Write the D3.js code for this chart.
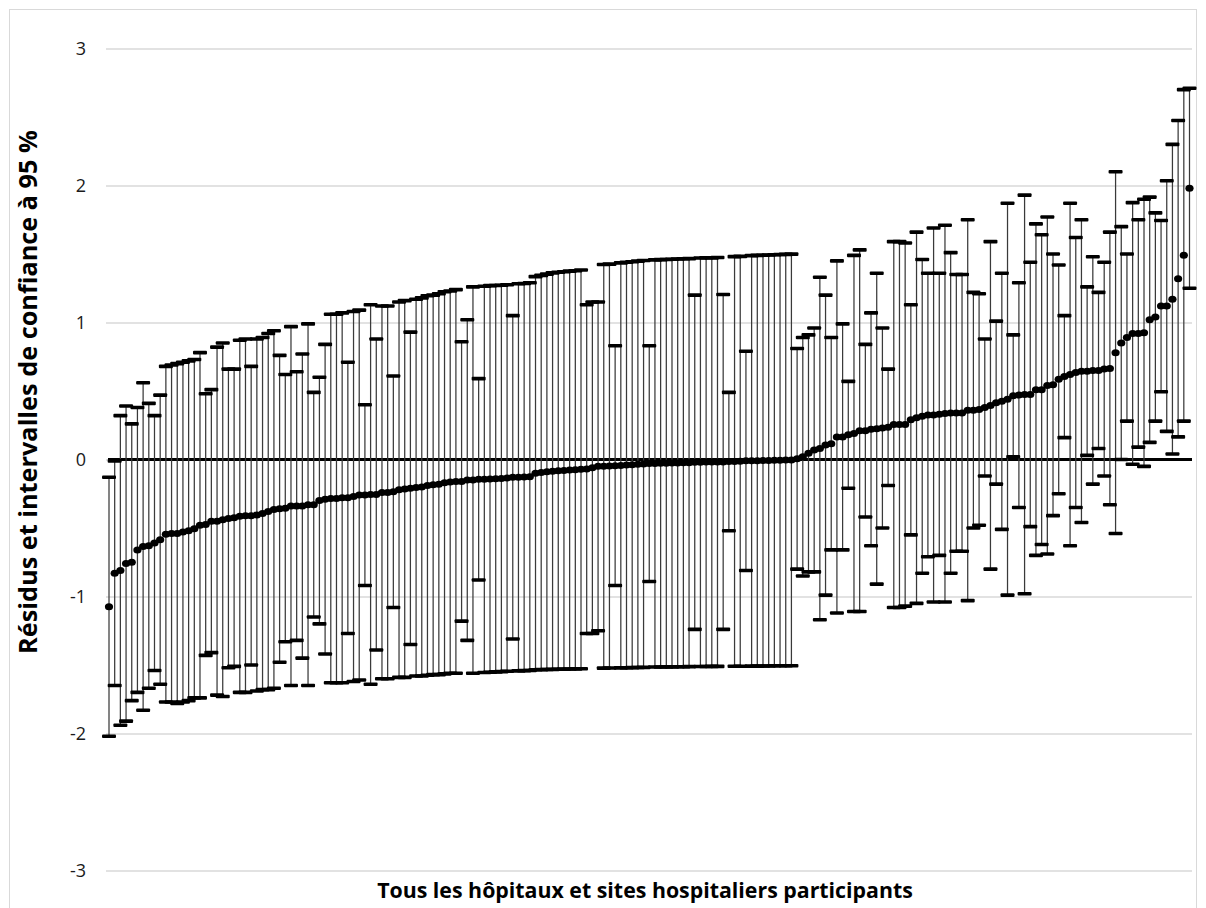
<!DOCTYPE html>
<html>
<head>
<meta charset="utf-8">
<script src="https://cdn.jsdelivr.net/npm/d3@7"></script>
<style>
  html, body { margin: 0; padding: 0; background: #fff; }
  svg { display: block; }
</style>
</head>
<body>
<svg id="chart" width="1206" height="908"></svg>
<script>
// ---- Data ----
const yTicks = [-3, -2, -1, 0, 1, 2, 3];
const yTitle = "Résidus et intervalles de confiance à 95 %";
const xTitle = "Tous les hôpitaux et sites hospitaliers participants";

// residual (point estimate) per hospital, sorted ascending
const residual = [
-1.075,-0.83,-0.81,-0.76,-0.75,-0.66,-0.635,-0.63,-0.61,-0.585,
-0.545,-0.54,-0.54,-0.53,-0.52,-0.505,-0.48,-0.475,-0.45,-0.45,
-0.44,-0.43,-0.425,-0.415,-0.41,-0.41,-0.405,-0.395,-0.38,-0.365,
-0.36,-0.355,-0.34,-0.34,-0.34,-0.33,-0.33,-0.30,-0.29,-0.285,
-0.285,-0.28,-0.28,-0.27,-0.26,-0.26,-0.255,-0.255,-0.24,-0.24,
-0.235,-0.22,-0.215,-0.21,-0.205,-0.20,-0.19,-0.185,-0.18,-0.17,
-0.165,-0.16,-0.16,-0.15,-0.15,-0.145,-0.145,-0.142,-0.14,-0.138,
-0.135,-0.13,-0.13,-0.128,-0.125,-0.10,-0.095,-0.09,-0.085,-0.082,
-0.08,-0.077,-0.075,-0.072,-0.07,-0.06,-0.05,-0.05,-0.048,-0.045,
-0.043,-0.04,-0.038,-0.035,-0.032,-0.03,-0.029,-0.028,-0.027,-0.026,
-0.025,-0.024,-0.023,-0.02,-0.02,-0.019,-0.019,-0.018,-0.018,-0.015,
-0.014,-0.013,-0.01,-0.01,-0.009,-0.008,-0.007,-0.006,-0.005,-0.004,
-0.003,0.005,0.02,0.045,0.07,0.08,0.105,0.115,0.165,0.165,
0.18,0.19,0.21,0.21,0.22,0.225,0.23,0.235,0.255,0.255,
0.255,0.29,0.305,0.315,0.325,0.325,0.33,0.335,0.34,0.34,
0.34,0.36,0.36,0.365,0.38,0.395,0.415,0.425,0.44,0.465,
0.47,0.475,0.475,0.51,0.51,0.54,0.545,0.585,0.605,0.62,
0.635,0.645,0.645,0.65,0.65,0.66,0.665,0.78,0.85,0.89,
0.92,0.92,0.925,1.02,1.04,1.12,1.12,1.17,1.32,1.49,
1.98
];

// lower bound of the 95 % confidence interval
const lower = [
-2.02,-1.65,-1.94,-1.91,-1.76,-1.70,-1.83,-1.67,-1.54,-1.64,
-1.77,-1.77,-1.78,-1.77,-1.76,-1.74,-1.74,-1.43,-1.41,-1.72,
-1.73,-1.52,-1.51,-1.70,-1.70,-1.50,-1.69,-1.68,-1.68,-1.67,
-1.48,-1.33,-1.65,-1.32,-1.45,-1.65,-1.15,-1.20,-1.42,-1.63,
-1.63,-1.63,-1.27,-1.62,-1.61,-0.92,-1.64,-1.39,-1.60,-1.60,
-1.08,-1.59,-1.59,-1.35,-1.58,-1.58,-1.575,-1.57,-1.57,-1.565,
-1.56,-1.56,-1.18,-1.32,-1.56,-0.88,-1.555,-1.553,-1.55,-1.548,
-1.546,-1.31,-1.543,-1.541,-1.54,-1.535,-1.534,-1.533,-1.532,-1.531,
-1.53,-1.529,-1.528,-1.527,-1.27,-1.27,-1.25,-1.523,-1.522,-0.92,
-1.521,-1.52,-1.519,-1.518,-1.517,-0.89,-1.515,-1.515,-1.514,-1.514,
-1.513,-1.513,-1.512,-1.24,-1.511,-1.511,-1.51,-1.51,-1.24,-0.52,
-1.509,-1.509,-0.81,-1.508,-1.508,-1.507,-1.507,-1.506,-1.506,-1.505,
-1.505,-0.80,-0.85,-0.82,-0.82,-1.17,-0.99,-0.66,-1.12,-0.66,
-0.21,-1.11,-1.11,-0.42,-0.63,-0.91,-0.50,-0.19,-1.08,-1.08,
-1.07,-0.55,-1.05,-0.83,-0.71,-1.04,-0.70,-1.04,-0.83,-0.67,
-0.67,-1.03,-0.50,-0.48,-0.12,-0.80,-0.18,-0.51,-0.99,0.02,
-0.35,-0.98,-0.49,-0.70,-0.62,-0.69,-0.41,-0.25,0.16,-0.63,
-0.35,-0.46,0.03,-0.18,0.08,-0.12,-0.33,-0.54,0.0,0.28,
-0.035,0.09,-0.05,0.125,0.28,0.495,0.205,0.04,0.165,0.28,
1.25
];

// upper bound of the 95 % confidence interval
const upper = [
-0.13,-0.01,0.32,0.39,0.26,0.38,0.56,0.41,0.32,0.47,
0.68,0.69,0.70,0.71,0.72,0.73,0.78,0.48,0.51,0.82,
0.85,0.66,0.66,0.87,0.88,0.68,0.88,0.89,0.92,0.94,
0.76,0.62,0.97,0.64,0.77,0.99,0.49,0.60,0.84,1.06,
1.06,1.07,0.71,1.08,1.09,0.40,1.13,0.88,1.12,1.12,
0.61,1.15,1.16,0.93,1.17,1.18,1.195,1.20,1.21,1.225,
1.23,1.24,0.86,1.02,1.26,0.59,1.265,1.269,1.27,1.272,
1.276,1.05,1.283,1.285,1.29,1.335,1.344,1.353,1.362,1.367,
1.37,1.375,1.378,1.383,1.13,1.15,1.15,1.423,1.426,0.83,
1.435,1.44,1.443,1.448,1.453,0.83,1.457,1.459,1.46,1.462,
1.463,1.465,1.466,1.20,1.471,1.473,1.472,1.474,1.204,0.49,
1.481,1.483,0.79,1.488,1.49,1.491,1.493,1.494,1.496,1.497,
1.499,0.81,0.89,0.91,0.96,1.33,1.20,0.89,1.45,0.99,
0.57,1.49,1.53,0.84,1.07,1.36,0.96,0.66,1.59,1.59,
1.58,1.13,1.66,1.46,1.36,1.69,1.36,1.71,1.51,1.35,
1.35,1.75,1.22,1.21,0.88,1.59,1.01,1.36,1.87,0.91,
1.29,1.93,1.44,1.72,1.64,1.77,1.50,1.42,1.05,1.87,
1.62,1.75,1.26,1.48,1.22,1.44,1.66,2.10,1.70,1.50,
1.875,1.75,1.90,1.915,1.80,1.745,2.035,2.30,2.475,2.70,
2.71
];

// ---- Layout ----
const plot = { left: 106, right: 1192, top: 48.5, bottom: 870.5 };
const svg = d3.select("#chart");
const FONT = "'Open Sans', 'Noto Sans', sans-serif";

const idx = d3.range(residual.length);
const x = d3.scalePoint().domain(idx).range([109, 1189.5]).padding(0);
const y = d3.scaleLinear().domain([-3, 3]).range([plot.bottom, plot.top]);

// outer chart border
svg.append("rect")
  .attr("x", 9.5).attr("y", 9.5)
  .attr("width", 1187).attr("height", 910)
  .attr("fill", "none").attr("stroke", "#d9d9d9").attr("stroke-width", 1);

// gridlines + tick labels via axis
const yAxis = d3.axisLeft(y).tickValues(yTicks).tickSize(-(plot.right - plot.left)).tickPadding(20)
  .tickFormat(d => d3.format("d")(d).replace("−", "-"));
const gAxis = svg.append("g").attr("transform", `translate(${plot.left},0)`).call(yAxis);
gAxis.select(".domain").remove();
gAxis.selectAll(".tick line").attr("stroke", "#d9d9d9").attr("stroke-width", 1.3);
gAxis.selectAll(".tick text")
  .attr("font-family", FONT).attr("font-size", 18).attr("fill", "#1a1a1a");

// zero line
svg.append("line")
  .attr("x1", plot.left + 2).attr("x2", plot.right)
  .attr("y1", y(0)).attr("y2", y(0))
  .attr("stroke", "#000").attr("stroke-width", 3);

// error bar stems
svg.append("g").selectAll("line").data(idx).join("line")
  .attr("x1", i => x(i)).attr("x2", i => x(i))
  .attr("y1", i => y(upper[i])).attr("y2", i => y(lower[i]))
  .attr("stroke", "#3a3a3a").attr("stroke-width", 1.25);

// caps
const capW = 14, capH = 3.6;
const caps = svg.append("g");
caps.selectAll("rect.u").data(idx).join("rect").attr("class", "u")
  .attr("x", i => x(i) - capW / 2).attr("y", i => y(upper[i]) - capH / 2)
  .attr("width", capW).attr("height", capH).attr("rx", 1).attr("fill", "#000");
caps.selectAll("rect.l").data(idx).join("rect").attr("class", "l")
  .attr("x", i => x(i) - capW / 2).attr("y", i => y(lower[i]) - capH / 2)
  .attr("width", capW).attr("height", capH).attr("rx", 1).attr("fill", "#000");

// residual markers
svg.append("g").selectAll("ellipse").data(idx).join("ellipse")
  .attr("cx", i => x(i)).attr("cy", i => y(residual[i]))
  .attr("rx", 4.1).attr("ry", 3.5).attr("fill", "#000");

// axis titles (sized to the reference extents)
function fitText(sel, target) {
  const len = sel.node().getComputedTextLength();
  const fs = +sel.attr("font-size");
  sel.attr("font-size", (fs * target / len).toFixed(2));
}
const xt = svg.append("text")
  .attr("x", 645).attr("y", 898).attr("text-anchor", "middle")
  .attr("font-family", FONT).attr("font-weight", "bold").attr("font-size", 16)
  .attr("fill", "#000").text(xTitle);
fitText(xt, 536);

const yt = svg.append("text")
  .attr("transform", "translate(37,392) rotate(-90)").attr("text-anchor", "middle")
  .attr("font-family", FONT).attr("font-weight", "bold").attr("font-size", 16)
  .attr("fill", "#000").text(yTitle);
fitText(yt, 524);
</script>
</body>
</html>
